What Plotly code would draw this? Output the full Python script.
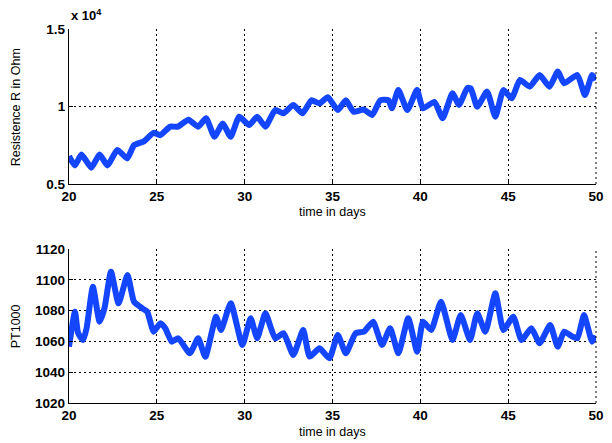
import plotly.graph_objects as go
from plotly.subplots import make_subplots

# Resistance measurement (Ohm) over time (days)
res_days = [20.0, 20.34, 20.71, 21.27, 21.74, 22.19, 22.75, 23.31, 23.70, 24.26,
            24.82, 25.2, 25.76, 26.2, 26.8, 27.35, 27.8, 28.28, 28.75, 29.2,
            29.69, 30.25, 30.71, 31.18, 31.74, 32.2, 32.77, 33.29, 33.8, 34.26,
            34.73, 35.3, 35.76, 36.2, 36.79, 37.26, 37.72, 38.19, 38.38, 38.75,
            39.26, 39.81, 40.15, 40.8, 41.27, 41.83, 42.2, 42.68, 42.87, 43.24,
            43.8, 44.27, 44.73, 45.2, 45.67, 46.23, 46.79, 47.35, 47.82, 48.19,
            48.94, 49.37, 49.78, 50.0]
res_ohm = [6800, 6200, 6900, 6050, 6900, 6200, 7200, 6650, 7500, 7750,
           8300, 8150, 8700, 8700, 9150, 8700, 9240, 8050, 8900, 8050,
           9340, 8800, 9340, 8700, 9770, 9560, 10100, 9560, 10400, 10200,
           10600, 9770, 10400, 9660, 9800, 9450, 10400, 10400, 9880, 11060,
           9770, 11060, 9880, 10300, 9240, 10850, 10100, 11200, 11170, 9990,
           10960, 9340, 11060, 10530, 11710, 11280, 12030, 11280, 12250, 11500,
           12030, 10740, 12030, 11710]

# PT1000 sensor reading over the same period
pt_days = [20.0, 20.34, 20.52, 20.8, 21.0, 21.36, 21.74, 22.02, 22.39, 22.82,
           23.33, 23.7, 24.17, 24.45, 24.82, 25.2, 25.48, 25.85, 26.22, 26.88,
           27.35, 27.76, 28.37, 28.65, 29.21, 29.87, 30.34, 30.71, 31.18, 31.74,
           32.21, 32.77, 33.33, 33.7, 34.26, 34.82, 35.3, 35.76, 36.32, 36.79,
           37.31, 37.82, 38.28, 38.75, 39.31, 39.82, 40.15, 40.62, 41.18, 41.83,
           42.3, 42.83, 43.24, 43.7, 44.27, 44.73, 45.29, 45.76, 46.32, 46.79,
           47.39, 47.82, 48.19, 48.66, 48.94, 49.32, 49.78, 50.0]
pt_vals = [1056.6, 1079.3, 1065.3, 1060.9, 1068.5, 1095.5, 1072.8, 1081.5, 1105.3, 1084.7,
           1103.1, 1085.8, 1081.5, 1079.3, 1066.3, 1071.8, 1068.5, 1059.8, 1062.0, 1052.3,
           1062.0, 1050.0, 1076.0, 1067.4, 1084.7, 1057.7, 1075.0, 1062.0, 1078.2, 1062.0,
           1065.3, 1051.2, 1067.4, 1050.1, 1055.5, 1049.0, 1064.2, 1052.3, 1065.3, 1066.3,
           1072.8, 1057.7, 1068.5, 1052.3, 1075.0, 1053.3, 1072.8, 1067.4, 1085.8, 1060.9,
           1077.1, 1060.9, 1078.2, 1066.3, 1091.2, 1067.4, 1076.0, 1060.9, 1068.5, 1058.8,
           1070.6, 1056.6, 1066.3, 1063.1, 1062.0, 1077.1, 1059.8, 1063.5]

x_ticks = [20, 25, 30, 35, 40, 45, 50]
res_ticks = [5000, 10000, 15000]
res_tick_text = ["0.5", "1", "1.5"]
pt_ticks = [1020, 1040, 1060, 1080, 1100, 1120]

LINE_BLUE = "#1446ff"
FONT = "Liberation Sans, Arial, sans-serif"
GRID_DASH = "2px,3px"

fig = make_subplots(rows=2, cols=1, vertical_spacing=0.0)

trace_line = dict(color=LINE_BLUE, width=6, shape="spline", smoothing=0.5)
fig.add_trace(go.Scatter(x=res_days, y=res_ohm, mode="lines",
                         line=trace_line, showlegend=False),
              row=1, col=1)
fig.add_trace(go.Scatter(x=pt_days, y=pt_vals, mode="lines",
                         line=trace_line, showlegend=False),
              row=2, col=1)

axis_common = dict(
    showline=True, linecolor="black", linewidth=1.3,
    showgrid=True, gridcolor="black", gridwidth=1, griddash=GRID_DASH,
    zeroline=False, ticks="inside", ticklen=4, tickcolor="black",
    tickfont=dict(family=FONT, size=13.5, color="black", weight="bold"),
)

fig.update_xaxes(range=[20, 50], tickvals=x_ticks, **axis_common)
fig.update_yaxes(**axis_common)
fig.update_yaxes(range=[5000, 15000], tickvals=res_ticks, ticktext=res_tick_text, row=1, col=1)
fig.update_yaxes(range=[1020, 1120], tickvals=pt_ticks, row=2, col=1)

fig.update_layout(
    width=612, height=443,
    margin=dict(l=69, r=8, t=29, b=40),
    paper_bgcolor="white", plot_bgcolor="white",
    xaxis=dict(domain=[0, 1]),
    yaxis=dict(domain=[0.5856, 1.0]),
    xaxis2=dict(domain=[0, 1]),
    yaxis2=dict(domain=[0.0, 0.4118]),
    font=dict(family=FONT, size=13, color="black"),
)

# dotted right-hand frame edge of each panel
for xr, yr in (("x domain", "y domain"), ("x2 domain", "y2 domain")):
    fig.add_shape(type="line", xref=xr, yref=yr, x0=1, x1=1, y0=0, y1=1,
                  line=dict(color="black", width=1, dash=GRID_DASH))

label_font = dict(family=FONT, size=12.5, color="black")
fig.add_annotation(text="time in days", xref="paper", yref="paper", x=0.5, y=0.5107,
                   showarrow=False, font=label_font, xanchor="center", yanchor="middle")
fig.add_annotation(text="time in days", xref="paper", yref="paper", x=0.5, y=-0.0775,
                   showarrow=False, font=label_font, xanchor="center", yanchor="middle")
fig.add_annotation(text="Resistence R in Ohm", xref="paper", yref="paper", x=-0.101, y=0.7901,
                   textangle=-90, showarrow=False, font=label_font,
                   xanchor="center", yanchor="middle")
fig.add_annotation(text="PT1000", xref="paper", yref="paper", x=-0.101, y=0.2045,
                   textangle=-90, showarrow=False, font=label_font,
                   xanchor="center", yanchor="middle")
fig.add_annotation(text="x 10<sup>4</sup>", xref="paper", yref="paper", x=0.0, y=1.0,
                   xanchor="left", yanchor="bottom", yshift=4, showarrow=False,
                   font=dict(family=FONT, size=13, color="black", weight="bold"))

fig.write_html("out.html")
